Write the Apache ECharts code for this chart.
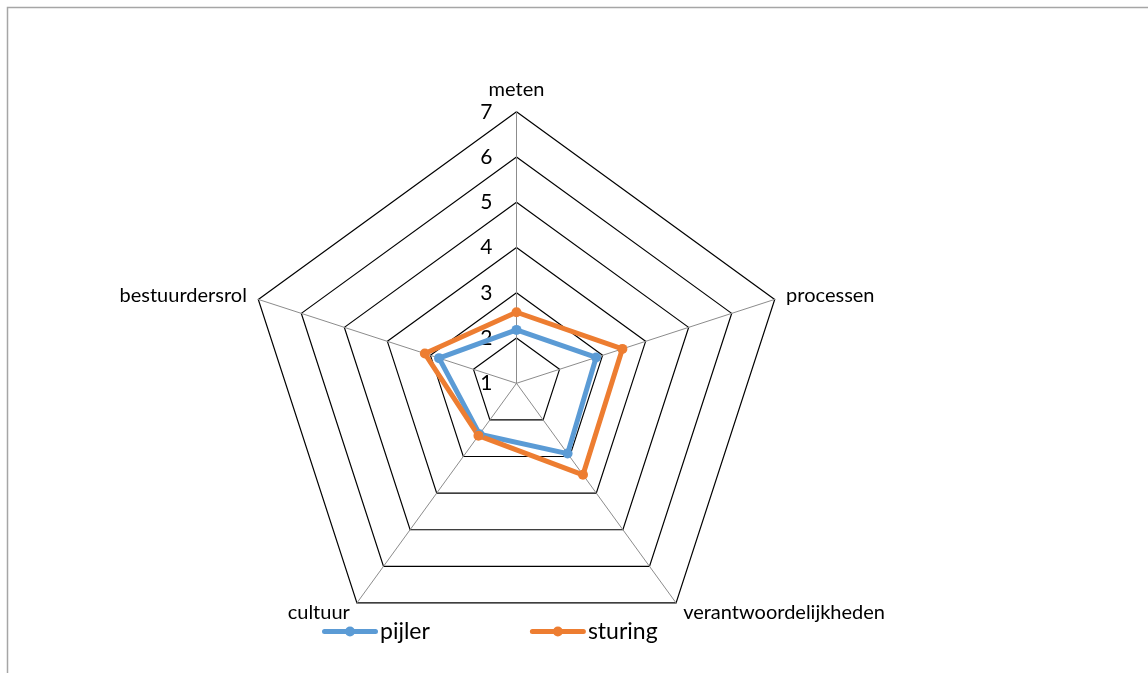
<!DOCTYPE html>
<html>
<head>
<meta charset="utf-8">
<script src="https://cdn.jsdelivr.net/npm/echarts@6/dist/echarts.min.js"></script>
<style>
  html, body { margin: 0; padding: 0; background: #fff; }
  #chart { width: 1148px; height: 673px; }
</style>
</head>
<body>
<div id="chart"></div>
<script>
// Radar axes, listed counter-clockwise from the top (ECharts' drawing order)
const indicators = ['meten', 'bestuurdersrol', 'cultuur', 'verantwoordelijkheden', 'processen'];
const axisMin = 1;
const axisMax = 7;
const seriesNames = ['pijler', 'sturing'];
const pijler = [2.18, 2.8, 2.39, 2.92, 2.85];
const sturing = [2.57, 3.13, 2.43, 3.5, 3.46];

const colors = ['#5B9BD5', '#ED7D31'];
const font = 'Lato, "Open Sans", "Liberation Sans", sans-serif';
// legend swatch: thick rounded line with a dot in the middle
const legendIcon = 'path://M2.5,2.5 L53.5,2.5 A2.5,2.5 0 0 1 53.5,7.5 L2.5,7.5 A2.5,2.5 0 0 1 2.5,2.5 Z M23,5 A5,5 0 1 1 33,5 A5,5 0 1 1 23,5 Z';

const chart = echarts.init(document.getElementById('chart'), null, { renderer: 'canvas' });
chart.setOption({
  animation: false,
  backgroundColor: '#ffffff',
  color: colors,
  graphic: [{
    type: 'rect',
    shape: { x: 7.5, y: 7.5, width: 1300, height: 1000 },
    style: { fill: 'none', stroke: '#a6a6a6', lineWidth: 1.5 },
    silent: true
  }],
  legend: {
    data: seriesNames.map(n => ({ name: n, icon: legendIcon })),
    left: 317,
    top: 615,
    itemWidth: 56,
    itemHeight: 10,
    itemGap: 100,
    textStyle: { fontFamily: font, fontSize: 23, color: '#000', padding: [0, 0, 0, -3] }
  },
  radar: {
    center: [516.5, 383.3],
    radius: 271.5,
    startAngle: 90,
    shape: 'polygon',
    splitNumber: axisMax - axisMin,
    indicator: indicators.map((name, i) => {
      const ind = { name: name, min: axisMin, max: axisMax };
      if (i === 0) {
        ind.axisLabel = {
          show: true,
          fontFamily: font,
          fontSize: 21,
          color: '#000',
          margin: 24,
          showMinLabel: true
        };
      }
      return ind;
    }),
    nameGap: 12,
    axisName: { color: '#000', fontFamily: font, fontSize: 20 },
    axisLine: { show: true, lineStyle: { color: '#8c8c8c', width: 1 } },
    axisTick: { show: false },
    axisLabel: { show: false },
    splitLine: { show: true, lineStyle: { color: '#000', width: 1.2 } },
    splitArea: { show: false }
  },
  series: [{
    type: 'radar',
    symbol: 'circle',
    symbolSize: 10,
    data: [
      { name: seriesNames[0], value: pijler,
        lineStyle: { color: colors[0], width: 5 },
        itemStyle: { color: colors[0] } },
      { name: seriesNames[1], value: sturing,
        lineStyle: { color: colors[1], width: 5 },
        itemStyle: { color: colors[1] } }
    ]
  }]
});
</script>
</body>
</html>
